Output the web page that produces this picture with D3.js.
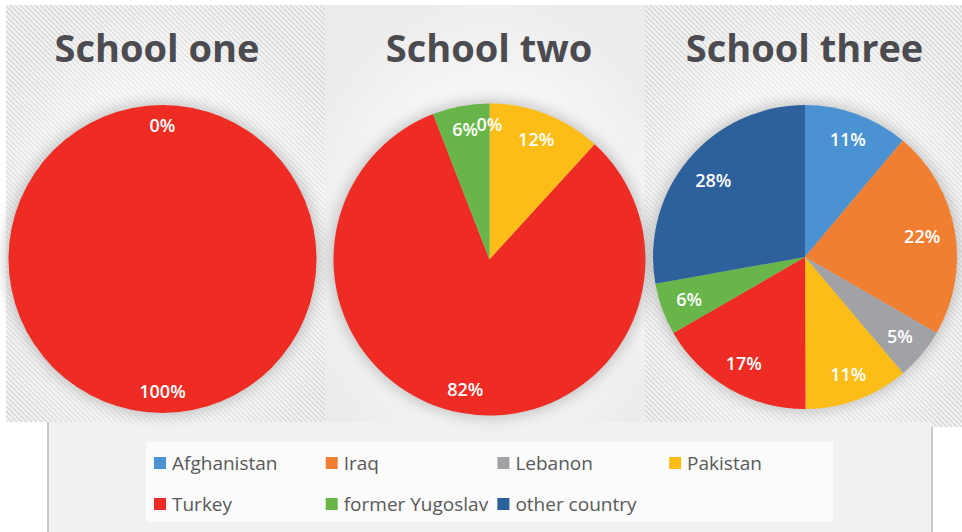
<!DOCTYPE html>
<html>
<head>
<meta charset="utf-8">
<script src="https://cdn.jsdelivr.net/npm/d3@7"></script>
<style>
  body { margin: 0; background: #fff; }
  svg { display: block; }
</style>
</head>
<body>
<svg id="chart" width="962" height="532"></svg>
<script>
const countries = ["Afghanistan", "Iraq", "Lebanon", "Pakistan", "Turkey", "former Yugoslav", "other country"];
const colors = ["#4a92d2", "#f17f32", "#a0a2a6", "#fdbd17", "#ee2c24", "#68b64a", "#2c619b"];
const schools = ["School one", "School two", "School three"];
// slice shares (%); null = no slice and no label
const schoolOne = [null, null, null, null, 100, null, 0];
const schoolTwo = [null, null, null, 11.8, 82.4, 5.9, 0];
const schoolThree = [11.1, 22.2, 5.5, 11.1, 16.7, 5.5, 27.8];
// percentages printed on the slices
const schoolOneLabels = [null, null, null, null, 100, null, 0];
const schoolTwoLabels = [null, null, null, 12, 82, 6, 0];
const schoolThreeLabels = [11, 22, 5, 11, 17, 6, 28];

const schoolValues = [schoolOne, schoolTwo, schoolThree];
const schoolLabels = [schoolOneLabels, schoolTwoLabels, schoolThreeLabels];

const width = 962, height = 532;
const svg = d3.select("#chart");

// layout of the three panels
const panels = [
    {x: 6, y: 5, w: 319, h: 417, cx: 162.5, cy: 259, r: 154, tx: 157, striped: true},
    {x: 325, y: 5, w: 320, h: 417, cx: 489.5, cy: 259.5, r: 156, tx: 489, striped: false},
    {x: 645, y: 5, w: 317, h: 422, cx: 805, cy: 257, r: 152, tx: 804.5, striped: true}
];

const defs = svg.append("defs");

let stripes = defs.append("pattern")
    .attr("id", "stripes")
    .attr("patternUnits", "userSpaceOnUse")
    .attr("width", 5)
    .attr("height", 5);
stripes.append("rect")
    .attr("width", 5).attr("height", 5)
    .attr("fill", "#f3f3f3");
stripes.append("path")
    .attr("d", "M0,0L5,5M-1,4L1,6M4,-1L6,1")
    .attr("stroke", "#d6d6d6")
    .attr("stroke-width", 1.4);

let glow = defs.append("radialGradient").attr("id", "glow");
glow.append("stop").attr("offset", "0%").attr("stop-color", "#fff").attr("stop-opacity", 0.9);
glow.append("stop").attr("offset", "55%").attr("stop-color", "#fff").attr("stop-opacity", 0.6);
glow.append("stop").attr("offset", "100%").attr("stop-color", "#fff").attr("stop-opacity", 0);

defs.append("filter")
    .attr("id", "blur")
    .attr("x", "-20%").attr("y", "-20%")
    .attr("width", "140%").attr("height", "140%")
    .append("feGaussianBlur")
    .attr("stdDeviation", 7);

//backgrounds
let bg = svg.append("g").attr("class", "backgrounds");
panels.forEach(p => {
    bg.append("rect")
        .attr("x", p.x).attr("y", p.y)
        .attr("width", p.w).attr("height", p.h)
        .attr("fill", p.striped ? "url(#stripes)" : "#ececec");
    bg.append("ellipse")
        .attr("cx", p.cx).attr("cy", p.cy - 20)
        .attr("rx", p.w * 0.62).attr("ry", p.h * 0.6)
        .attr("fill", "url(#glow)");
});

//legend area
svg.append("rect")
    .attr("x", 48).attr("y", 422)
    .attr("width", 884).attr("height", 110)
    .attr("fill", "#f1f1f1");
svg.append("line")
    .attr("x1", 48).attr("x2", 48).attr("y1", 422).attr("y2", 532)
    .attr("stroke", "#c9c9c9").attr("stroke-width", 2);
svg.append("line")
    .attr("x1", 932).attr("x2", 932).attr("y1", 427).attr("y2", 532)
    .attr("stroke", "#c9c9c9").attr("stroke-width", 2);
svg.append("rect")
    .attr("x", 146).attr("y", 442)
    .attr("width", 687).attr("height", 80)
    .attr("fill", "#fbfbfb");

const pie = d3.pie().sort(null).value(d => d.value === null ? 0 : d.value);

schoolValues.forEach((vals, si) => {
    let p = panels[si];
    let data = countries.map((c, i) => ({
        country: c, color: colors[i], value: vals[i], label: schoolLabels[si][i]
    }));
    let arcs = pie(data);

    let arc = d3.arc().innerRadius(0).outerRadius(p.r);

    let g = svg.append("g")
        .attr("class", "pie")
        .attr("transform", `translate(${p.cx},${p.cy})`);

    // soft shadow round the pie
    g.append("circle")
        .attr("r", p.r + 3)
        .attr("fill", "#9a9a9a")
        .attr("opacity", 0.55)
        .attr("filter", "url(#blur)");

    g.selectAll(".slice")
        .data(arcs.filter(d => d.data.value > 0))
        .enter().append("path")
        .attr("class", "slice")
        .attr("d", arc)
        .attr("fill", d => d.data.color);

    // labels sit at the inside end of each slice, box kept inside the rim
    g.selectAll(".label")
        .data(arcs.filter(d => d.data.label !== null))
        .enter().append("text")
        .attr("class", "label")
        .attr("text-anchor", "middle")
        .attr("dy", "0.36em")
        .attr("fill", "#fff")
        .attr("font-family", "Open Sans, sans-serif")
        .attr("font-weight", 600)
        .attr("font-size", 18)
        .text(d => d.data.label + "%")
        .attr("transform", function(d){
            let a = (d.startAngle + d.endAngle) / 2;
            let w = this.getComputedTextLength();
            let dist = p.r - 14 - (w / 2) * Math.abs(Math.sin(a)) - 7 * Math.abs(Math.cos(a));
            return `translate(${dist * Math.sin(a)},${-dist * Math.cos(a)})`;
        });

    svg.append("text")
        .attr("class", "title")
        .attr("x", p.tx)
        .attr("y", 62)
        .attr("text-anchor", "middle")
        .attr("fill", "#4b4b50")
        .attr("font-family", "Open Sans, sans-serif")
        .attr("font-weight", 700)
        .attr("font-size", 38)
        .text(schools[si]);
});

//legend
let legend = svg.append("g").attr("class", "legend")
    .selectAll("g")
    .data(countries)
    .enter().append("g")
    .attr("transform", (d, i) => `translate(${154 + (i % 4) * 171.7},${463 + Math.floor(i / 4) * 41})`);

legend.append("rect")
    .attr("x", 0).attr("y", -6)
    .attr("width", 12).attr("height", 12)
    .attr("fill", (d, i) => colors[i]);

legend.append("text")
    .attr("x", 18)
    .attr("dy", "0.35em")
    .attr("fill", "#595959")
    .attr("font-family", "Open Sans, sans-serif")
    .attr("font-size", 19)
    .text(d => d);
</script>
</body>
</html>
